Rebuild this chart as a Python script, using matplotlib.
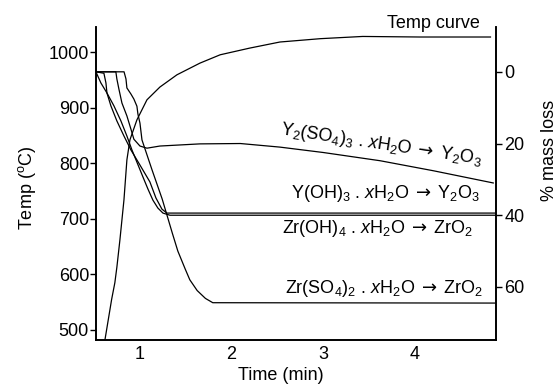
import matplotlib
matplotlib.use('Agg')
import matplotlib.pyplot as plt

plt.rcParams['font.family'] = ['Liberation Sans', 'DejaVu Sans']
plt.rcParams['mathtext.fontset'] = 'custom'
plt.rcParams['mathtext.rm'] = 'Liberation Sans'
plt.rcParams['mathtext.it'] = 'Liberation Sans:italic'
plt.rcParams['mathtext.bf'] = 'Liberation Sans:bold'
plt.rcParams['mathtext.sf'] = 'DejaVu Sans'

# temperature curve (left axis, deg C)
temp_t = [0.627, 0.70, 0.735, 0.757, 0.79, 0.834, 0.866, 0.899, 0.975, 1.084,
          1.225, 1.41, 1.66, 1.88, 2.2, 2.53, 2.97, 3.43, 4.05, 4.82]
temp_c = [482, 555, 585, 613, 662, 734, 806, 842, 878, 914,
          937, 959, 980, 995, 1007, 1018, 1024, 1028, 1027, 1027]

# mass loss curves (right axis, %)
y2so4_t = [0.53, 0.746, 0.757, 0.779, 0.812, 0.866, 0.91, 0.942, 1.008, 1.084,
           1.225, 1.66, 2.10, 2.53, 3.0, 3.62, 4.20, 4.85]
y2so4_m = [0, 0, 2.0, 4.8, 8.7, 12.3, 16.0, 18.8, 20.7, 21.3,
           20.7, 20.1, 20.0, 21.0, 22.5, 24.8, 27.6, 31.0]

yoh_t = [0.529, 0.616, 0.638, 0.649, 0.692, 0.757, 0.834, 0.91, 1.008, 1.116,
         1.182, 1.247, 1.301, 4.88]
yoh_m = [0, 0.4, 3.1, 5.9, 9.5, 13.7, 17.9, 21.8, 26.0, 30.7,
         35.2, 38.3, 39.4, 39.4]

zroh_t = [0.529, 0.583, 0.649, 0.725, 0.801, 0.866, 0.921, 0.975, 1.04, 1.095,
          1.149, 1.203, 1.258, 1.334, 4.88]
zroh_m = [0, 3.1, 5.9, 9.5, 13.7, 17.9, 21.8, 25.2, 29.3, 32.7,
          35.8, 38.0, 39.4, 40.0, 40.0]

zrso4_t = [0.53, 0.835, 0.856, 0.866, 0.91, 0.942, 0.975, 0.986, 1.008, 1.03,
           1.14, 1.25, 1.36, 1.42, 1.50, 1.55, 1.63, 1.72, 1.80, 4.88]
zrso4_m = [0, 0, 2.0, 4.5, 6.2, 7.6, 9.6, 11.8, 14.3, 19.0,
           27.4, 35.5, 45.0, 50.0, 55.0, 58.0, 61.0, 63.2, 64.4, 64.5]

temp_ticks = [500, 600, 700, 800, 900, 1000]
mass_ticks = [0, 20, 40, 60]
time_ticks = [1, 2, 3, 4]

W, H = 557, 389
fig = plt.figure(figsize=(W / 100, H / 100), dpi=100)
ax = fig.add_axes([96 / W, 1 - 340 / H, 400 / W, 313 / H])
ax2 = ax.twinx()

lw = 0.9
ax.plot(temp_t, temp_c, color='k', lw=lw)
ax2.plot(y2so4_t, y2so4_m, color='k', lw=lw)
ax2.plot(yoh_t, yoh_m, color='k', lw=lw)
ax2.plot(zroh_t, zroh_m, color='k', lw=lw)
ax2.plot(zrso4_t, zrso4_m, color='k', lw=lw)

ax.set_xlim(0.53, 4.88)
ax.set_ylim(482, 1045)
ax2.set_ylim(74.8, -12.5)

for a in (ax, ax2):
    a.spines['top'].set_visible(False)
    for s in ('left', 'right', 'bottom'):
        a.spines[s].set_linewidth(1.2)

ax.set_xticks(time_ticks)
ax.set_yticks(temp_ticks)
ax2.set_yticks(mass_ticks)
ax.tick_params(axis='x', length=0, labelsize=13, pad=4)
ax.tick_params(axis='y', length=4, width=1, labelsize=13, pad=1)
ax2.tick_params(axis='y', length=4, width=1, labelsize=13, pad=2)

fs = 13
arrow = r'$\;\mathsf{\rightarrow}\;$'
fig.text(27 / W, 1 - 188 / H, r'Temp ($^{\rm o}$C)', rotation=90,
         ha='center', va='center', fontsize=fs)
fig.text(281 / W, 1 - 375 / H, 'Time (min)', ha='center', va='center', fontsize=fs)
fig.text(549 / W, 1 - 150 / H, '% mass loss', rotation=90,
         ha='center', va='center', fontsize=fs)
fig.text(480 / W, 1 - 23 / H, 'Temp curve', ha='right', va='center', fontsize=fs)

ax2.text(3.63, 20.4, r'Y$_2$(SO$_4$)$_3$ . $x$H$_2$O' + arrow + r'Y$_2$O$_3$',
         rotation=-8.5, rotation_mode='anchor', ha='center', va='center', fontsize=fs)
ax2.text(4.71, 33.8, r'Y(OH)$_3$ . $x$H$_2$O' + arrow + r'Y$_2$O$_3$',
         ha='right', va='center', fontsize=fs)
ax2.text(4.63, 43.6, r'Zr(OH)$_4$ . $x$H$_2$O' + arrow + r'ZrO$_2$',
         ha='right', va='center', fontsize=fs)
ax2.text(4.74, 60.3, r'Zr(SO$_4$)$_2$ . $x$H$_2$O' + arrow + r'ZrO$_2$',
         ha='right', va='center', fontsize=fs)

fig.savefig('out.png', dpi=100)
